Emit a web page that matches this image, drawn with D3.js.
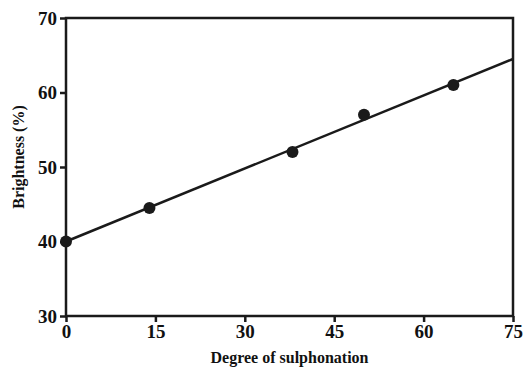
<!DOCTYPE html>
<html>
<head>
<meta charset="utf-8">
<script src="https://cdn.jsdelivr.net/npm/d3@7"></script>
<style>
  body { margin: 0; background: #fff; }
</style>
</head>
<body>
<div id="chart"></div>
<script>
const sulphonation = [0, 14, 38, 50, 65];
const brightness = [40, 44.5, 52, 57, 61];
const fitLine = [[0, 40], [75, 64.5]];
const xTicks = [0, 15, 30, 45, 60, 75];
const yTicks = [30, 40, 50, 60, 70];

const width = 529, height = 368;
const margin = { top: 18, right: 16, bottom: 52, left: 66 };
const serif = 'Times New Roman, Liberation Serif, DejaVu Serif, serif';

const svg = d3.select('#chart')
  .append('svg')
  .attr('width', width)
  .attr('height', height)
  .style('font-family', serif)
  .style('font-weight', 'bold');

const x = d3.scaleLinear().domain([0, 75]).range([margin.left, width - margin.right]);
const y = d3.scaleLinear().domain([30, 70]).range([height - margin.bottom, margin.top]);

const ink = '#1a1a1a';

// frame
svg.append('rect')
  .attr('x', x(0)).attr('y', y(70))
  .attr('width', x(75) - x(0)).attr('height', y(30) - y(70))
  .attr('fill', 'none').attr('stroke', ink).attr('stroke-width', 2.5);

const xAxis = svg.append('g')
  .attr('transform', `translate(0,${y(30)})`)
  .call(d3.axisBottom(x).tickValues(xTicks).tickSize(6).tickPadding(3));
const yAxis = svg.append('g')
  .attr('transform', `translate(${x(0)},0)`)
  .call(d3.axisLeft(y).tickValues(yTicks).tickSize(6).tickPadding(3));

[xAxis, yAxis].forEach(g => {
  g.attr('font-family', null).attr('font-size', null);
  g.select('.domain').remove();
  g.selectAll('line').attr('stroke', ink).attr('stroke-width', 2.5);
  g.selectAll('text').attr('fill', '#111').style('font-size', '19px');
});

// fitted line
svg.append('path')
  .datum(fitLine)
  .attr('d', d3.line().x(d => x(d[0])).y(d => y(d[1])))
  .attr('fill', 'none').attr('stroke', ink).attr('stroke-width', 2.5);

svg.selectAll('circle.pt')
  .data(sulphonation.map((v, i) => [v, brightness[i]]))
  .join('circle')
  .attr('class', 'pt')
  .attr('cx', d => x(d[0]))
  .attr('cy', d => y(d[1]))
  .attr('r', 6)
  .attr('fill', ink);

svg.append('text')
  .attr('x', (x(0) + x(75)) / 2)
  .attr('y', 363)
  .attr('text-anchor', 'middle')
  .style('font-size', '16px')
  .attr('fill', '#111')
  .text('Degree of sulphonation');

svg.append('text')
  .attr('transform', `translate(24,${(y(30) + y(70)) / 2 - 10}) rotate(-90)`)
  .attr('text-anchor', 'middle')
  .style('font-size', '16px')
  .attr('fill', '#111')
  .text('Brightness (%)');
</script>
</body>
</html>
